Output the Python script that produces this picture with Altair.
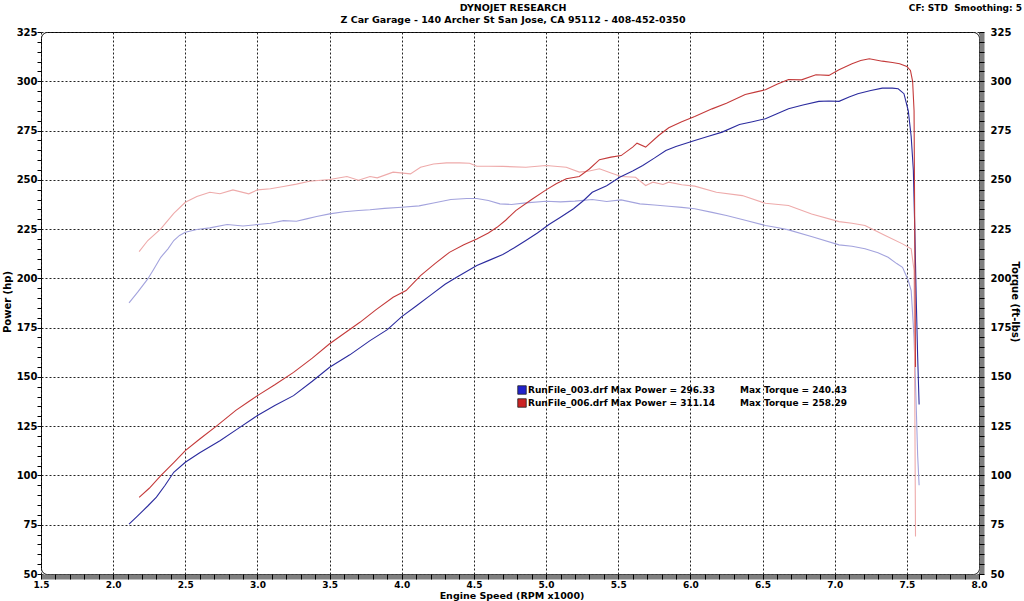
import altair as alt
import pandas as pd

# ---------------- data ----------------
# RunFile_003 (blue) power, hp
rpm_p003 = [2.11, 2.17, 2.24, 2.30, 2.36, 2.42, 2.50, 2.60, 2.74, 2.87, 3.00, 3.12, 3.25, 3.38, 3.50,
            3.64, 3.78, 3.90, 4.00, 4.10, 4.20, 4.30, 4.38, 4.52, 4.60, 4.70, 4.78, 4.86, 4.94, 5.02,
            5.10, 5.19, 5.26, 5.32, 5.42, 5.51, 5.60, 5.67, 5.75, 5.83, 5.90, 6.03, 6.12, 6.22, 6.34,
            6.43, 6.52, 6.60, 6.68, 6.78, 6.89, 6.96, 7.03, 7.10, 7.16, 7.25, 7.33, 7.40, 7.44, 7.48,
            7.51, 7.53, 7.545, 7.555, 7.565, 7.575, 7.585]
hp_003 = [75.3, 79.5, 84.5, 89.0, 95.0, 101.6, 106.7, 111.5, 117.6, 124.0, 130.4, 135.5, 140.5, 147.8, 154.9,
          161.2, 168.4, 174.0, 180.6, 186.0, 191.5, 197.0, 200.6, 206.5, 209.0, 212.1, 215.5, 219.2, 223.0, 227.3,
          231.0, 235.3, 239.5, 243.7, 247.0, 251.3, 254.5, 257.3, 261.0, 264.9, 266.9, 270.0, 272.0, 274.2, 278.1,
          279.5, 281.0, 283.5, 286.1, 288.0, 289.8, 290.0, 289.8, 292.0, 293.7, 295.3, 296.5, 296.5, 296.2, 293.7,
          285.0, 272.0, 255.0, 225.0, 190.0, 160.0, 136.0]

# RunFile_006 (red) power, hp
rpm_p006 = [2.18, 2.25, 2.33, 2.42, 2.50, 2.60, 2.72, 2.85, 2.94, 3.00, 3.12, 3.25, 3.38, 3.50, 3.60,
            3.71, 3.82, 3.94, 4.03, 4.13, 4.23, 4.33, 4.43, 4.52, 4.60, 4.66, 4.72, 4.79, 4.90, 5.00,
            5.07, 5.14, 5.23, 5.30, 5.37, 5.45, 5.52, 5.60, 5.63, 5.69, 5.78, 5.85, 5.94, 6.03, 6.15,
            6.25, 6.38, 6.45, 6.52, 6.60, 6.68, 6.77, 6.87, 6.96, 7.03, 7.12, 7.18, 7.24, 7.33, 7.40,
            7.45, 7.50, 7.525, 7.54, 7.55, 7.555, 7.56]
hp_006 = [88.9, 93.5, 99.9, 106.5, 112.6, 118.5, 125.3, 133.0, 137.5, 140.5, 146.0, 152.3, 159.5, 166.8, 172.0,
          177.7, 184.0, 190.4, 193.8, 201.4, 207.5, 213.2, 217.0, 220.0, 223.0, 225.9, 229.5, 234.4, 240.0, 244.9,
          248.0, 250.5, 251.7, 255.5, 260.2, 261.5, 262.3, 266.6, 268.6, 266.6, 272.5, 276.4, 279.5, 282.1, 286.0,
          288.9, 293.3, 294.5, 295.7, 298.5, 300.9, 300.7, 303.3, 303.0, 305.8, 308.9, 310.5, 311.4, 310.2, 309.5,
          308.9, 307.5, 305.5, 300.0, 285.0, 220.0, 155.0]

# RunFile_003 (blue) torque, ft-lbs
rpm_t003 = [2.11, 2.17, 2.24, 2.28, 2.33, 2.38, 2.42, 2.46, 2.50, 2.58, 2.67, 2.79, 2.90, 3.00, 3.09,
            3.18, 3.27, 3.34, 3.41, 3.50, 3.60, 3.70, 3.78, 3.88, 4.00, 4.12, 4.22, 4.34, 4.45, 4.52,
            4.60, 4.68, 4.76, 4.86, 5.00, 5.10, 5.20, 5.32, 5.42, 5.52, 5.65, 5.75, 5.85, 5.94, 6.03,
            6.15, 6.25, 6.38, 6.52, 6.60, 6.68, 6.85, 7.03, 7.12, 7.21, 7.30, 7.37, 7.43, 7.47, 7.51,
            7.53, 7.55, 7.565, 7.575, 7.585]
tq_003 = [187.6, 193.0, 199.7, 204.5, 210.7, 215.0, 219.2, 221.8, 223.4, 224.8, 225.6, 227.3, 226.6, 227.3, 228.0,
          229.3, 229.0, 230.2, 231.4, 232.7, 233.8, 234.4, 234.8, 235.5, 236.1, 236.8, 238.2, 240.0, 240.5, 240.5,
          239.5, 237.8, 237.5, 238.3, 239.1, 238.8, 239.2, 240.0, 239.0, 239.8, 237.8, 237.2, 236.6, 236.0, 235.3,
          233.5, 231.9, 229.5, 226.8, 225.8, 224.6, 221.0, 217.0, 216.3, 215.0, 213.0, 210.7, 207.5, 205.6, 198.9,
          193.8, 170.0, 135.0, 110.0, 95.0]

# RunFile_006 (red) torque, ft-lbs
rpm_t006 = [2.18, 2.24, 2.33, 2.42, 2.50, 2.58, 2.67, 2.74, 2.83, 2.94, 3.00, 3.09, 3.18, 3.27, 3.36,
            3.50, 3.62, 3.70, 3.78, 3.83, 3.94, 4.06, 4.13, 4.22, 4.31, 4.40, 4.47, 4.52, 4.60, 4.70,
            4.86, 5.00, 5.14, 5.23, 5.30, 5.37, 5.45, 5.52, 5.62, 5.69, 5.74, 5.81, 5.85, 5.94, 6.03,
            6.18, 6.36, 6.52, 6.68, 6.84, 7.03, 7.12, 7.21, 7.35, 7.47, 7.53, 7.55, 7.555, 7.56]
tq_006 = [213.6, 219.2, 225.1, 233.0, 238.6, 241.5, 243.7, 242.9, 244.9, 242.9, 244.9, 245.5, 246.6, 247.8, 249.3,
          250.2, 251.7, 249.8, 251.7, 251.0, 253.9, 253.0, 256.4, 258.0, 258.6, 258.6, 258.4, 256.9, 256.9, 256.8,
          256.4, 257.3, 256.4, 253.9, 254.5, 255.6, 253.5, 251.7, 251.3, 247.1, 248.8, 247.6, 248.8, 247.5, 246.8,
          243.7, 242.0, 238.1, 237.0, 232.7, 228.8, 228.0, 226.8, 221.7, 217.5, 215.0, 204.0, 140.0, 69.0]

series_names = ["Torque 003", "Torque 006", "Power 003", "Power 006"]
series_colors = ["#a3a3dd", "#eeaaaa", "#2b2b9e", "#c43a3a"]

x_major = [1.5, 2.0, 2.5, 3.0, 3.5, 4.0, 4.5, 5.0, 5.5, 6.0, 6.5, 7.0, 7.5, 8.0]
y_major = [50, 75, 100, 125, 150, 175, 200, 225, 250, 275, 300, 325]
x_minor = [round(1.5 + 0.1 * i, 1) for i in range(66)]
y_minor = [50 + 5 * i for i in range(56)]

title_text = "DYNOJET RESEARCH"
subtitle_text = "Z Car Garage - 140 Archer St San Jose, CA 95112 - 408-452-0350"
corner_text = "CF: STD\u00a0 Smoothing: 5"
x_title = "Engine Speed (RPM x1000)"
y_left_title = "Power (hp)"
y_right_title = "Torque (ft-lbs)"
legend_files = ["RunFile_003.drf Max Power = 296.33", "RunFile_006.drf Max Power = 311.14"]
legend_torque = ["Max Torque = 240.43", "Max Torque = 258.29"]
legend_colors = ["#2222cc", "#cc2222"]

# ---------------- build ----------------
frames = []
for name, r, v in [(series_names[0], rpm_t003, tq_003), (series_names[1], rpm_t006, tq_006),
                   (series_names[2], rpm_p003, hp_003), (series_names[3], rpm_p006, hp_006)]:
    frames.append(pd.DataFrame({"rpm": r, "value": v, "series": name}))
df = pd.concat(frames, ignore_index=True)

FONT = "DejaVu Sans"
xs = alt.Scale(domain=[1.5, 8.0], nice=False, zero=False)
ys = alt.Scale(domain=[50, 325], nice=False, zero=False)

base = alt.Chart(df)

def blank_axis(orient, **kw):
    opts = dict(orient=orient, labels=False, ticks=False, grid=False, domain=False, title=None)
    opts.update(kw)
    return alt.Axis(**opts)

# gray bands (bottom & right)
band = base.mark_point(opacity=0).encode(
    x=alt.X("rpm:Q", scale=xs, axis=blank_axis("bottom", domain=True, domainColor="#7f7f7f",
                                                 domainWidth=5, offset=2.5)),
    y=alt.Y("value:Q", scale=ys, axis=blank_axis("right", domain=True, domainColor="#7f7f7f",
                                                   domainWidth=5, offset=2.5)),
)

# minor ticks
minor_a = base.mark_point(opacity=0).encode(
    x=alt.X("rpm:Q", scale=xs, axis=blank_axis("bottom", ticks=True, values=x_minor, tickSize=5,
                                                 tickColor="#000", tickWidth=1)),
    y=alt.Y("value:Q", scale=ys, axis=blank_axis("left", ticks=True, values=y_minor, tickSize=4,
                                                   tickColor="#000", tickWidth=1)),
)
minor_b = base.mark_point(opacity=0).encode(
    x=alt.X("rpm:Q", scale=xs, axis=blank_axis("top")),
    y=alt.Y("value:Q", scale=ys, axis=blank_axis("right", ticks=True, values=y_minor, tickSize=5,
                                                   tickColor="#000", tickWidth=1)),
)

label_style = dict(labelFont=FONT, labelFontWeight="bold", labelColor="#000")

lines = base.mark_line(strokeWidth=1.1).encode(
    x=alt.X("rpm:Q", scale=xs,
            axis=alt.Axis(orient="bottom", values=x_major, format=".1f", grid=True, gridDash=[2, 2],
                          gridColor="#222", gridWidth=1, ticks=False, tickSize=0, domain=False,
                          labelPadding=6, labelFlush=False, title=None, labelFontSize=9, **label_style)),
    y=alt.Y("value:Q", scale=ys,
            axis=alt.Axis(orient="left", values=y_major, grid=True, gridDash=[2, 2], gridColor="#222",
                          gridWidth=1, ticks=False, tickSize=0, domain=False, labelPadding=4,
                          labelFlush=False, title=None, labelFontSize=10, **label_style)),
    color=alt.Color("series:N", scale=alt.Scale(domain=series_names, range=series_colors), legend=None),
)

right_axis = base.mark_point(opacity=0).encode(
    x=alt.X("rpm:Q", scale=xs, axis=blank_axis("top")),
    y=alt.Y("value:Q", scale=ys,
            axis=alt.Axis(orient="right", values=y_major, grid=False, ticks=False, tickSize=0,
                          domain=False, labelPadding=11, labelFlush=False, title=None,
                          labelFontSize=10, **label_style)),
)

def text_layer(txt, x, y, size=9, align="center", angle=0, weight="bold"):
    return alt.Chart(pd.DataFrame({"t": [txt]})).mark_text(
        font=FONT, fontSize=size, fontWeight=weight, align=align, baseline="middle",
        angle=angle, color="#000").encode(text="t:N", x=alt.value(x), y=alt.value(y))

texts = [
    text_layer(title_text, 472, -24, size=9.5),
    text_layer(subtitle_text, 472, -12, size=9.5),
    text_layer(corner_text, 981, -24, size=9, align="right"),
    text_layer(x_title, 471, 564, size=9.5),
    text_layer(y_left_title, -33, 270, size=10, angle=270),
    text_layer(y_right_title, 974, 270, size=10, angle=90),
]
for i in range(2):
    yy = 358 + 13 * i
    texts.append(alt.Chart(pd.DataFrame({"c": [legend_colors[i]]})).mark_square(
        size=72, opacity=1, stroke="#222", strokeWidth=0.8).encode(
        x=alt.value(481), y=alt.value(yy), color=alt.Color("c:N", scale=None)))
    texts.append(text_layer(legend_files[i], 487, yy, size=9, align="left"))
    texts.append(text_layer(legend_torque[i], 699, yy, size=9, align="left"))

chart = alt.layer(band, minor_a, minor_b, lines, right_axis, *texts).resolve_axis(
    x="independent", y="independent"
).properties(
    width=938, height=542,
    padding={"left": 41, "top": 32, "right": 45, "bottom": 27},
    autosize=alt.AutoSizeParams(type="none"),
    background="white",
).configure_view(
    stroke="#000", strokeWidth=1, cornerRadius=6
)

chart.save("out.html", embed_options={"renderer": "svg", "actions": False})
